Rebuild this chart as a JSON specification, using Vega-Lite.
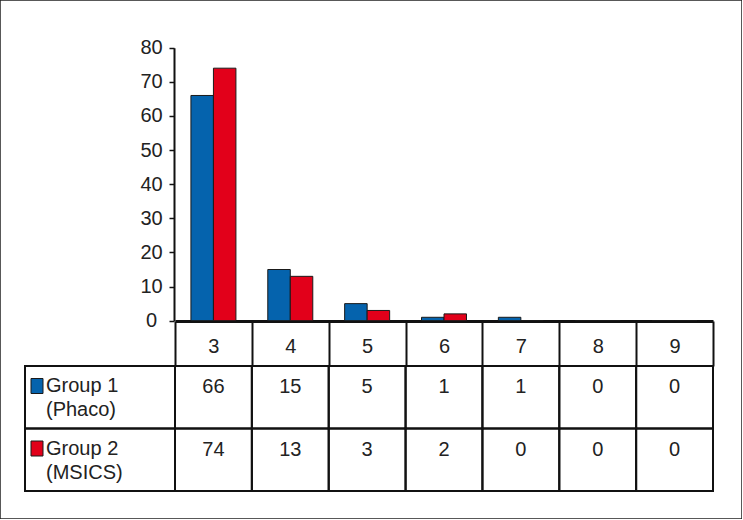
{
  "$schema": "https://vega.github.io/schema/vega-lite/v6.json",
  "width": 742,
  "height": 519,
  "autosize": {"type": "none"},
  "padding": 0,
  "background": "white",
  "config": {
    "view": {"stroke": "#222", "strokeWidth": 1.5},
    "font": "Liberation Sans",
    "text": {"font": "Liberation Sans", "fontSize": 20, "color": "#222"}
  },
  "datasets": {
    "counts": [
      {"cat": "3", "group": "Group 1", "value": 66},
      {"cat": "4", "group": "Group 1", "value": 15},
      {"cat": "5", "group": "Group 1", "value": 5},
      {"cat": "6", "group": "Group 1", "value": 1},
      {"cat": "7", "group": "Group 1", "value": 1},
      {"cat": "8", "group": "Group 1", "value": 0},
      {"cat": "9", "group": "Group 1", "value": 0},
      {"cat": "3", "group": "Group 2", "value": 74},
      {"cat": "4", "group": "Group 2", "value": 13},
      {"cat": "5", "group": "Group 2", "value": 3},
      {"cat": "6", "group": "Group 2", "value": 2},
      {"cat": "7", "group": "Group 2", "value": 0},
      {"cat": "8", "group": "Group 2", "value": 0},
      {"cat": "9", "group": "Group 2", "value": 0}
    ],
    "labels": [
      {"col": "label", "group": "Group 1", "label": "Group 1|(Phaco)"},
      {"col": "label", "group": "Group 2", "label": "Group 2|(MSICS)"}
    ]
  },
  "resolve": {"scale": {"x": "independent", "y": "independent"}},
  "layer": [
    {
      "data": {"name": "counts"},
      "mark": {"type": "bar", "stroke": "#1a1a1a", "strokeWidth": 1},
      "encoding": {
        "x": {
          "field": "cat",
          "type": "nominal",
          "scale": {"domain": ["3", "4", "5", "6", "7", "8", "9"], "range": [175, 713], "paddingInner": 0, "paddingOuter": 0},
          "axis": {
            "orient": "bottom",
            "offset": -198,
            "title": null,
            "labelAngle": 0,
            "tickBand": "extent",
            "tickSize": 45,
            "tickColor": "#111",
            "tickWidth": 2,
            "labelPadding": -30,
            "labelFont": "Liberation Sans",
            "labelFontSize": 20,
            "labelColor": "#222",
            "domainColor": "#111",
            "domainWidth": 3,
            "grid": false
          }
        },
        "xOffset": {
          "field": "group",
          "type": "nominal",
          "scale": {"paddingInner": 0, "paddingOuter": 0.708}
        },
        "y": {
          "field": "value",
          "type": "quantitative",
          "scale": {"domain": [0, 80], "range": [320.7, 47.7], "nice": false},
          "axis": {
            "offset": -174,
            "title": null,
            "values": [0, 10, 20, 30, 40, 50, 60, 70, 80],
            "tickSize": 5,
            "tickColor": "#111",
            "tickWidth": 1.5,
            "labelPadding": 18,
            "labelAlign": "center",
            "labelBaseline": "middle",
            "labelFont": "Liberation Sans",
            "labelFontSize": 20,
            "labelColor": "#222",
            "domainColor": "#111",
            "domainWidth": 2,
            "grid": false
          }
        },
        "color": {
          "field": "group",
          "type": "nominal",
          "scale": {"domain": ["Group 1", "Group 2"], "range": ["#0563AD", "#E2001A"]},
          "legend": null
        }
      }
    },
    {
      "data": {"name": "counts"},
      "encoding": {
        "x": {
          "field": "cat",
          "type": "nominal",
          "scale": {"domain": ["3", "4", "5", "6", "7", "8", "9"], "range": [175, 713], "paddingInner": 0, "paddingOuter": 0},
          "axis": null
        },
        "y": {
          "field": "group",
          "type": "nominal",
          "scale": {"domain": ["Group 1", "Group 2"], "range": [366, 491], "paddingInner": 0, "paddingOuter": 0},
          "axis": null
        }
      },
      "layer": [
        {"mark": {"type": "rect", "filled": false, "stroke": "#111", "strokeWidth": 2}},
        {
          "mark": {"type": "text", "baseline": "top", "align": "center", "fontSize": 20, "color": "#222"},
          "encoding": {
            "y": {"field": "group", "type": "nominal", "bandPosition": 0.18},
            "text": {"field": "value", "type": "quantitative"}
          }
        }
      ]
    },
    {
      "data": {"name": "labels"},
      "encoding": {
        "x": {
          "field": "col",
          "type": "nominal",
          "scale": {"domain": ["label"], "range": [25, 175], "paddingInner": 0, "paddingOuter": 0},
          "axis": null
        },
        "y": {
          "field": "group",
          "type": "nominal",
          "scale": {"domain": ["Group 1", "Group 2"], "range": [366, 491], "paddingInner": 0, "paddingOuter": 0},
          "axis": null
        }
      },
      "layer": [
        {"mark": {"type": "rect", "filled": false, "stroke": "#111", "strokeWidth": 2}},
        {
          "mark": {"type": "point", "shape": "M-0.8,-1H0.8V1H-0.8Z", "size": 225, "filled": true, "opacity": 1, "stroke": "#1a1a1a", "strokeWidth": 1},
          "encoding": {
            "x": {"field": "col", "type": "nominal", "bandPosition": 0.08},
            "y": {"field": "group", "type": "nominal", "bandPosition": 0.32},
            "fill": {"field": "group", "type": "nominal", "scale": {"domain": ["Group 1", "Group 2"], "range": ["#0563AD", "#E2001A"]}, "legend": null}
          }
        },
        {
          "mark": {"type": "text", "align": "left", "baseline": "top", "lineBreak": "|", "lineHeight": 24, "fontSize": 20, "color": "#222"},
          "encoding": {
            "x": {"field": "col", "type": "nominal", "bandPosition": 0.14},
            "y": {"field": "group", "type": "nominal", "bandPosition": 0.16},
            "text": {"field": "label", "type": "nominal"}
          }
        }
      ]
    }
  ]
}
